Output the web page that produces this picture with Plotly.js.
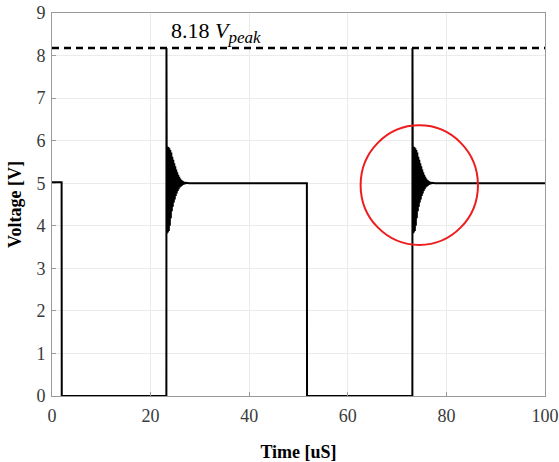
<!DOCTYPE html>
<html>
<head>
<meta charset="utf-8">
<script src="https://cdn.plot.ly/plotly-3.0.1.min.js"></script>
<style>html,body{margin:0;padding:0;background:#fff;}#chart{width:559px;height:462px;}</style>
</head>
<body>
<div id="chart"></div>
<script>
// ---- data ----
const xTicks = [0, 20, 40, 60, 80, 100];
const yTicks = [0, 1, 2, 3, 4, 5, 6, 7, 8, 9];
const highLevel = 5.0;
const initialLevel = 5.02;
const fallTimes = [1.95, 51.7];
const riseTimes = [23.2, 73.1];
const peakValue = 8.18;
// damped ringing after each rising edge (offset from the rise, voltage)
const ringOffsets = [0.02, 0.1, 0.2, 0.3, 0.4, 0.5, 0.6, 0.7, 0.8, 0.9, 1.0, 1.1, 1.2, 1.3, 1.4, 1.5, 1.6, 1.7, 1.8, 1.9, 2.0, 2.1, 2.2, 2.3, 2.4, 2.5, 2.6, 2.7, 2.8, 2.9, 3.0, 3.1, 3.2, 3.3, 3.4, 3.5, 3.6, 3.7, 3.8, 3.9, 4.0, 4.6];
const ringValues  = [8.18, 3.82, 5.86, 3.84, 5.85, 3.88, 5.82, 4.00, 5.78, 4.18, 5.72, 4.34, 5.62, 4.45, 5.55, 4.55, 5.47, 4.62, 5.40, 4.70, 5.32, 4.76, 5.26, 4.82, 5.20, 4.86, 5.15, 4.90, 5.11, 4.92, 5.08, 4.94, 5.06, 4.96, 5.04, 4.97, 5.03, 4.98, 5.02, 4.99, 5.01, 5.00];
const endTime = 100;
const annotationText = "8.18 <i>V</i><sub><span style=\"font-size:17px\"><i>peak</i></span></sub>";
const circleBox = [62.6, 3.55, 86.4, 6.36]; // x0, y0, x1, y1 of the red highlight

// ---- build the waveform from the data ----
const t = [], v = [];
t.push(0); v.push(initialLevel);
t.push(fallTimes[0]); v.push(initialLevel);
t.push(fallTimes[0] + 0.03); v.push(0);
for (let k = 0; k < riseTimes.length; k++) {
  t.push(riseTimes[k]); v.push(0);
  for (let i = 0; i < ringOffsets.length; i++) { t.push(riseTimes[k] + ringOffsets[i]); v.push(ringValues[i]); }
  if (k + 1 < fallTimes.length) {
    t.push(fallTimes[k + 1]); v.push(highLevel);
    t.push(fallTimes[k + 1] + 0.03); v.push(0);
  }
}
t.push(endTime); v.push(highLevel);

const serif = '"Liberation Serif", "Times New Roman", serif';

const traces = [
  { x: t, y: v, type: 'scatter', mode: 'lines', line: { color: '#000', width: 2 }, hoverinfo: 'skip' },
  { x: [xTicks[0], xTicks[xTicks.length - 1]], y: [peakValue, peakValue], type: 'scatter', mode: 'lines',
    line: { color: '#000', width: 2.5, dash: '7px,5px' }, hoverinfo: 'skip' }
];

const axisCommon = {
  showline: true, linecolor: '#9a9a9a', linewidth: 1, mirror: true,
  showgrid: true, gridcolor: '#ebebeb', gridwidth: 1,
  zeroline: false, ticks: 'inside', ticklen: 4, tickcolor: '#9a9a9a',
  tickfont: { family: serif, size: 18, color: '#3a3a3a' }
};

const layout = {
  width: 559, height: 462,
  margin: { l: 52, r: 14, t: 13, b: 66 },
  paper_bgcolor: '#fff', plot_bgcolor: '#fff',
  showlegend: false,
  xaxis: Object.assign({}, axisCommon, {
    range: [0, 100], tickvals: xTicks, ticktext: xTicks.map(String), ticklabelstandoff: 3,
    title: { text: '<b>Time [uS]</b>', font: { family: serif, size: 18, color: '#000' }, standoff: 20 }
  }),
  yaxis: Object.assign({}, axisCommon, {
    range: [0, 9], tickvals: yTicks, ticktext: yTicks.map(String), ticklabelstandoff: 2,
    title: { text: '<b>Voltage [V]</b>', font: { family: serif, size: 18, color: '#000' }, standoff: 10 }
  }),
  annotations: [{
    x: riseTimes[0] + 0.6, y: peakValue, xref: 'x', yref: 'y', xanchor: 'left', yanchor: 'bottom',
    text: annotationText, showarrow: false, yshift: -1,
    font: { family: serif, size: 22, color: '#000' }
  }],
  shapes: [{
    type: 'circle', xref: 'x', yref: 'y',
    x0: circleBox[0], y0: circleBox[1], x1: circleBox[2], y1: circleBox[3],
    line: { color: '#ee1c1c', width: 2 }
  }]
};

Plotly.newPlot('chart', traces, layout, { displayModeBar: false, staticPlot: true });
</script>
</body>
</html>
